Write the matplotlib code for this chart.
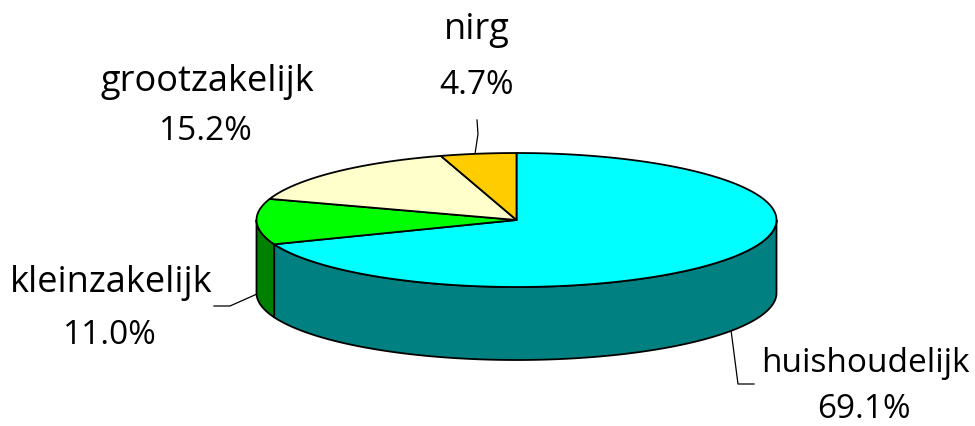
import numpy as np
import matplotlib
matplotlib.use("Agg")
import matplotlib.pyplot as plt
from matplotlib.patches import Polygon

# data
labels = ["huishoudelijk", "kleinzakelijk", "grootzakelijk", "nirg"]
values = [69.1, 11.0, 15.2, 4.7]
top_colors = ["#00FFFF", "#00FF00", "#FFFFCC", "#FFCC00"]
side_colors = ["#008080", "#008000", "#808066", "#806600"]

# label positions and leader lines, in pixels of the picture
label_pos = [(865, 363), (111, 283), (207, 82), (477, 30)]
value_pos = [(864, 410), (110, 336), (206, 132), (477, 85)]
label_size = [24, 26, 26, 26]
leaders = [
    [(731, 330), (738, 384), (754, 384)],
    [(257, 294), (230, 306), (214, 306)],
    None,
    [(475, 154), (478, 134), (477, 120)],
]

cx, cy = 516.5, 220
rx, ry = 260, 67
depth = 73

plt.rcParams["font.family"] = ["Open Sans", "DejaVu Sans"]

fig = plt.figure(figsize=(9.75, 4.26), dpi=100)
ax = fig.add_axes([0, 0, 1, 1])
ax.set_xlim(0, 975)
ax.set_ylim(426, 0)
ax.axis("off")


def rim(a1, a2, dy=0):
    # points along the ellipse, angles in degrees, counted clockwise from the top
    t = np.radians(np.linspace(a1, a2, max(int(abs(a2 - a1)) * 2, 2)))
    return np.column_stack([cx + rx * np.sin(t), cy - ry * np.cos(t) + dy])


edges = np.concatenate([[0], np.cumsum(values)]) * 3.6

# side walls, only the front half (90..270 degrees) can be seen
for i in range(len(values)):
    a1 = max(edges[i], 90)
    a2 = min(edges[i + 1], 270)
    if a2 <= a1:
        continue
    upper = rim(a1, a2)
    lower = rim(a2, a1, depth)
    ax.add_patch(Polygon(np.vstack([upper, lower]), closed=True, fc=side_colors[i],
                         ec="black", lw=1.3, joinstyle="round", zorder=2))

# top of the pie
for i in range(len(values)):
    pts = np.vstack([[(cx, cy)], rim(edges[i], edges[i + 1])])
    ax.add_patch(Polygon(pts, closed=True, fc=top_colors[i], ec="black", lw=1.3,
                         joinstyle="round", zorder=3))

for line in leaders:
    if line is not None:
        xs, ys = zip(*line)
        ax.plot(xs, ys, color="black", lw=0.9, zorder=1)

for i in range(len(values)):
    ax.text(*label_pos[i], labels[i], fontsize=label_size[i], ha="center", va="center", color="black")
    ax.text(*value_pos[i], f"{values[i]:.1f}%", fontsize=24, ha="center", va="center", color="black")

fig.savefig("out.png", dpi=100)
